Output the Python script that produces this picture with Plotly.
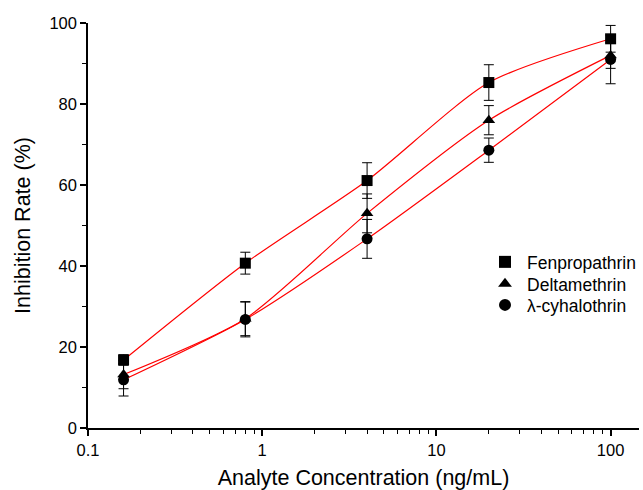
import plotly.graph_objects as go

conc = [0.16, 0.8, 4, 20, 100]

fen = [16.8, 40.7, 61.1, 85.3, 96.1]
fen_err = [1.3, 2.7, 4.4, 4.4, 3.3]

delta = [13.2, 27.0, 53.0, 76.0, 92.0]
delta_err = [3.5, 4.2, 4.8, 3.6, 3.2]

lam = [11.9, 26.8, 46.7, 68.6, 91.0]
lam_err = [4.0, 4.3, 4.8, 3.0, 6.0]

names = ["Fenpropathrin", "Deltamethrin", "λ-cyhalothrin"]
symbols = ["square", "triangle-up", "circle"]
legend_ids = ["legend", "legend2", "legend3"]

x_ticks = [0.1, 1, 10, 100]
x_tick_text = ["0.1", "1", "10", "100"]
x_minor = [0.2, 0.3, 0.4, 0.5, 0.6, 0.7, 0.8, 0.9,
           2, 3, 4, 5, 6, 7, 8, 9,
           20, 30, 40, 50, 60, 70, 80, 90]
y_ticks = [0, 20, 40, 60, 80, 100]
y_minor = [10, 30, 50, 70, 90]

FONT = "Liberation Sans, Arial, sans-serif"

fig = go.Figure()

series = [fen, delta, lam]
errs = [fen_err, delta_err, lam_err]

for ys in series:
    fig.add_trace(go.Scatter(
        x=conc, y=ys, mode="lines",
        line=dict(color="#ff0000", width=1.2, shape="spline", smoothing=0.7),
        showlegend=False, hoverinfo="skip"))

for ys, es, nm, sym, lg in zip(series, errs, names, symbols, legend_ids):
    fig.add_trace(go.Scatter(
        x=conc, y=ys, mode="markers", name=nm, legend=lg,
        marker=dict(symbol=sym, size=11, color="black"),
        error_y=dict(type="data", array=es, color="black", thickness=1, width=5)))

tick_font = dict(family=FONT, size=16.5, color="black")
title_font = dict(family=FONT, size=21.5, color="black")
legend_font = dict(family=FONT, size=17.5, color="black")


def legend_box(ypos):
    return dict(x=0.7156, y=ypos, xanchor="left", yanchor="middle",
                font=legend_font, bgcolor="rgba(0,0,0,0)",
                itemsizing="constant", itemwidth=34)


fig.update_layout(
    width=643, height=490,
    margin=dict(l=88, r=3, t=23, b=62),
    plot_bgcolor="white", paper_bgcolor="white",
    font=dict(family=FONT, color="black"),
    legend=legend_box(0.4099),
    legend2=legend_box(0.3556),
    legend3=legend_box(0.3037),
    showlegend=True,
)

fig.update_xaxes(
    type="log", range=[-1, 2.163], automargin=False,
    tickvals=x_ticks, ticktext=x_tick_text,
    ticks="outside", ticklen=6, tickwidth=1.5, tickcolor="black",
    showline=True, linecolor="black", linewidth=1.5,
    showgrid=False, zeroline=False,
    tickfont=tick_font,
    minor=dict(tickvals=x_minor, ticks="outside", ticklen=4, tickwidth=1.2, tickcolor="black", showgrid=False),
    title=dict(text="Analyte Concentration (ng/mL)", font=title_font, standoff=14),
)
fig.update_yaxes(
    range=[0, 100], automargin=False,
    tickvals=y_ticks,
    ticks="outside", ticklen=6, tickwidth=1.5, tickcolor="black",
    showline=True, linecolor="black", linewidth=1.5,
    showgrid=False, zeroline=False,
    tickfont=tick_font,
    minor=dict(tickvals=y_minor, ticks="outside", ticklen=4, tickwidth=1.2, tickcolor="black", showgrid=False),
    title=dict(text="Inhibition Rate (%)", font=title_font, standoff=13),
)

fig.write_html("out.html", post_script="document.body.style.margin='0';",
               config={"displayModeBar": False})
